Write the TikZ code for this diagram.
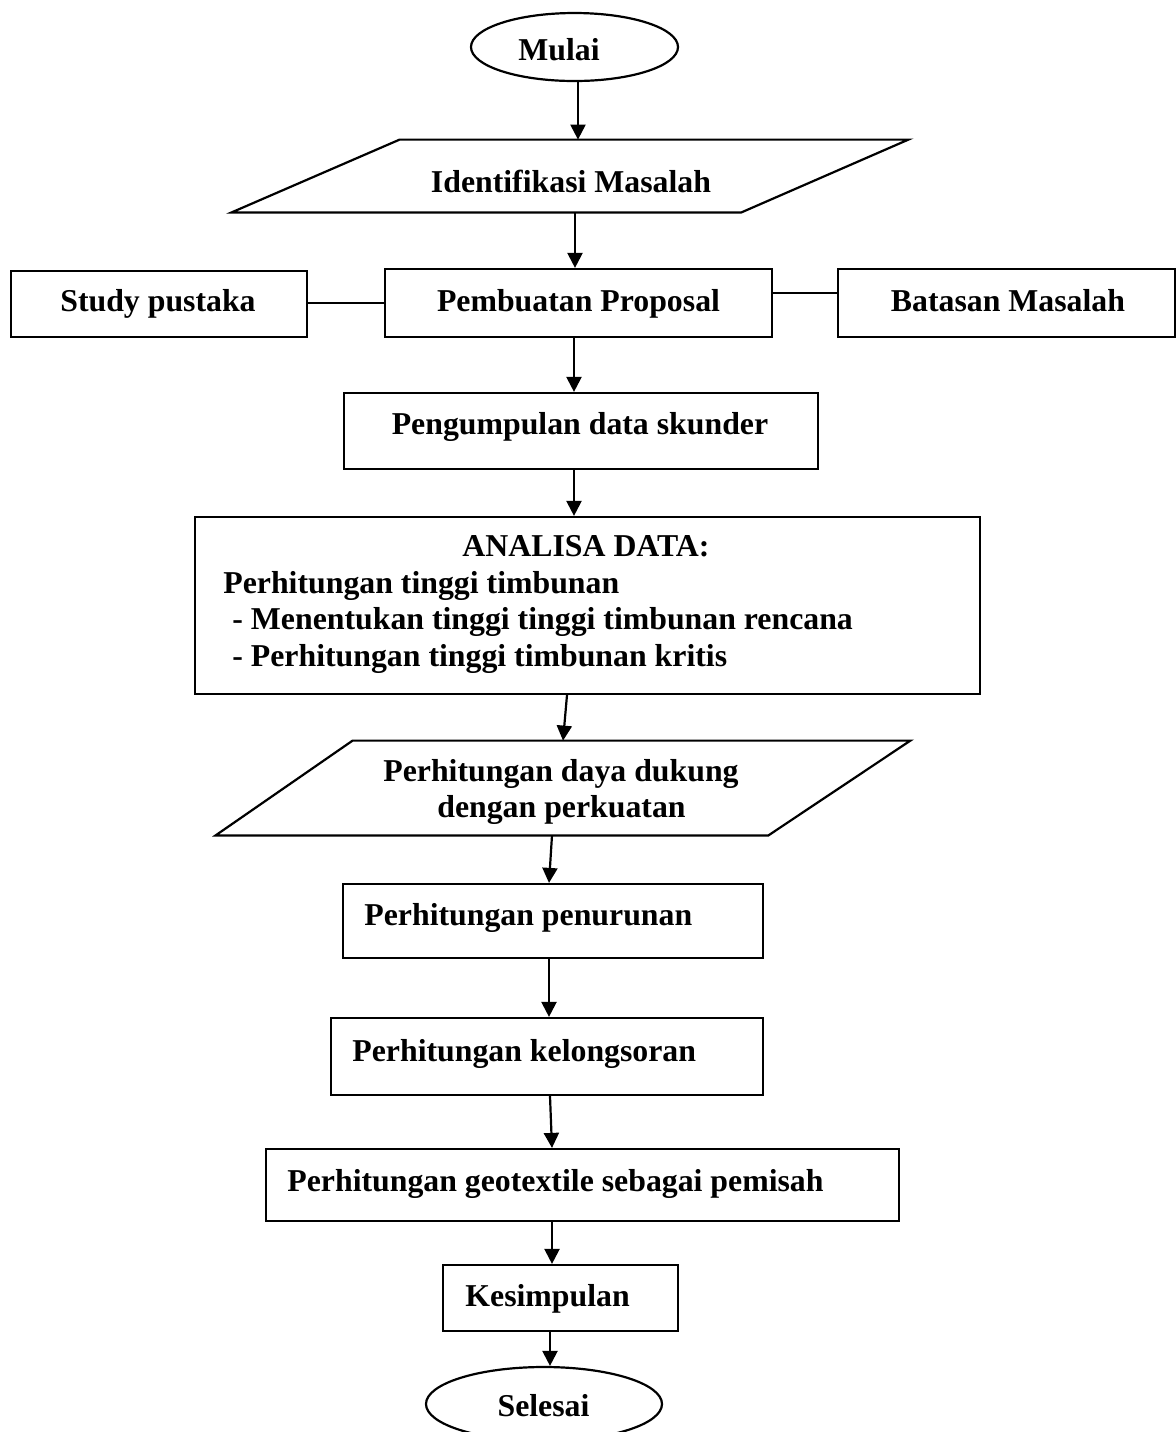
\documentclass[tikz,border=0pt]{standalone}
\usepackage{fontspec}
\setmainfont{Liberation Serif}
\usetikzlibrary{arrows.meta,shapes.geometric}
\begin{document}
\begin{tikzpicture}[x=0.5pt,y=-0.5pt,
  box/.style={draw,line width=1.1pt,inner sep=0pt,rectangle},
  frame/.style={inner sep=0pt,rectangle},
  oval/.style={draw,line width=1.1pt,ellipse,inner sep=0pt},
  lbl/.style={font=\fontsize{15.9}{18}\selectfont\bfseries,inner sep=0pt},
  arr/.style={line width=1.1pt,-{Triangle[length=7.5pt,width=7.5pt]}},
  link/.style={line width=1.1pt}]
\useasboundingbox (0,0) rectangle (1176,1432);

% shapes
\node[oval,minimum width=103.5pt,minimum height=34pt] (mulai) at (574.5,47) {};
\node[frame,minimum width=338pt,minimum height=36pt] (ident) at (570,176) {};
\draw[link] ([xshift=84pt]ident.north west) -- (ident.north east) -- ([xshift=-83.5pt]ident.south east) -- (ident.south west) -- cycle;
\node[box,minimum width=148pt,minimum height=33pt] (study) at (159,304) {};
\node[box,minimum width=193.5pt,minimum height=34pt] (pemb) at (578.5,303) {};
\node[box,minimum width=168.5pt,minimum height=34pt] (bat) at (1006.5,303) {};
\node[box,minimum width=237pt,minimum height=38pt] (peng) at (581,431) {};
\node[box,minimum width=392.5pt,minimum height=88.5pt] (ana) at (587.5,605.5) {};
\node[frame,minimum width=347pt,minimum height=47pt] (daya) at (563,788) {};
\draw[link] ([xshift=68.5pt]daya.north west) -- (daya.north east) -- ([xshift=-71pt]daya.south east) -- (daya.south west) -- cycle;
\node[box,minimum width=210pt,minimum height=37pt] (pen) at (553,921) {};
\node[box,minimum width=216pt,minimum height=38.5pt] (kel) at (547,1056.5) {};
\node[box,minimum width=316.5pt,minimum height=36pt] (geo) at (582.5,1185) {};
\node[box,minimum width=117.5pt,minimum height=33pt] (kes) at (560.5,1298) {};
\node[oval,minimum width=118pt,minimum height=37pt] (sel) at (544,1404) {};

% texts
\node[lbl,anchor=base west] (tmulai) at (518,60) {Mulai};
\node[lbl,anchor=base] (tident) at (571,192) {Identifikasi Masalah};
\node[lbl,anchor=base] (tstudy) at (158,311) {Study pustaka};
\node[lbl,anchor=base] (tpemb) at (578.5,311) {Pembuatan Proposal};
\node[lbl,anchor=base] (tbat) at (1008,311) {Batasan Masalah};
\node[lbl,anchor=base] (tpeng) at (580,434) {Pengumpulan data skunder};
\node[lbl,anchor=base] (tana1) at (586,556) {ANALISA DATA:};
\node[lbl,anchor=base west] (tana2) at (223,593) {Perhitungan tinggi timbunan};
\node[lbl,anchor=base west] (tana3) at (232,629) {- Menentukan tinggi tinggi timbunan rencana};
\node[lbl,anchor=base west] (tana4) at (232,666) {- Perhitungan tinggi timbunan kritis};
\node[lbl,anchor=base] (tdaya1) at (561,781) {Perhitungan daya dukung};
\node[lbl,anchor=base] (tdaya2) at (561.5,817) {dengan perkuatan};
\node[lbl,anchor=base west] (tpen) at (364,925) {Perhitungan penurunan};
\node[lbl,anchor=base west] (tkel) at (352,1061) {Perhitungan kelongsoran};
\node[lbl,anchor=base west] (tgeo) at (287,1191) {Perhitungan geotextile sebagai pemisah};
\node[lbl,anchor=base west] (tkes) at (465,1306) {Kesimpulan};
\node[lbl,anchor=base] (tsel) at (543.5,1416) {Selesai};

% connectors
\draw[arr] ([xshift=1.75pt]mulai.south) -- ([xshift=1.75pt]mulai.south |- ident.north);
\draw[arr] ([xshift=-1.75pt]pemb.north |- ident.south) -- ([xshift=-1.75pt]pemb.north);
\draw[link] (study.east |- pemb.west) -- (pemb.west);
\draw[link] ([yshift=5pt]pemb.east) -- ([yshift=5pt]pemb.east -| bat.west);
\draw[arr] ([xshift=-2.25pt]pemb.south) -- ([xshift=-2.25pt]pemb.south |- peng.north);
\draw[arr] ([xshift=-3.5pt]peng.south) -- ([xshift=-3.5pt]peng.south |- ana.north);
\draw[arr] ([xshift=-10.25pt]ana.south) -- (daya.north);
\draw[arr] ([xshift=-5.5pt]daya.south) -- ([xshift=-2pt]pen.north);
\draw[arr] ([xshift=-2pt]pen.south) -- ([xshift=1pt]kel.north);
\draw[arr] ([xshift=1.5pt]kel.south) -- ([xshift=-15.25pt]geo.north);
\draw[arr] ([xshift=-15.25pt]geo.south) -- ([xshift=-4.25pt]kes.north);
\draw[arr] ([xshift=-5.25pt]kes.south) -- ([xshift=3pt]sel.north);
\end{tikzpicture}
\end{document}
